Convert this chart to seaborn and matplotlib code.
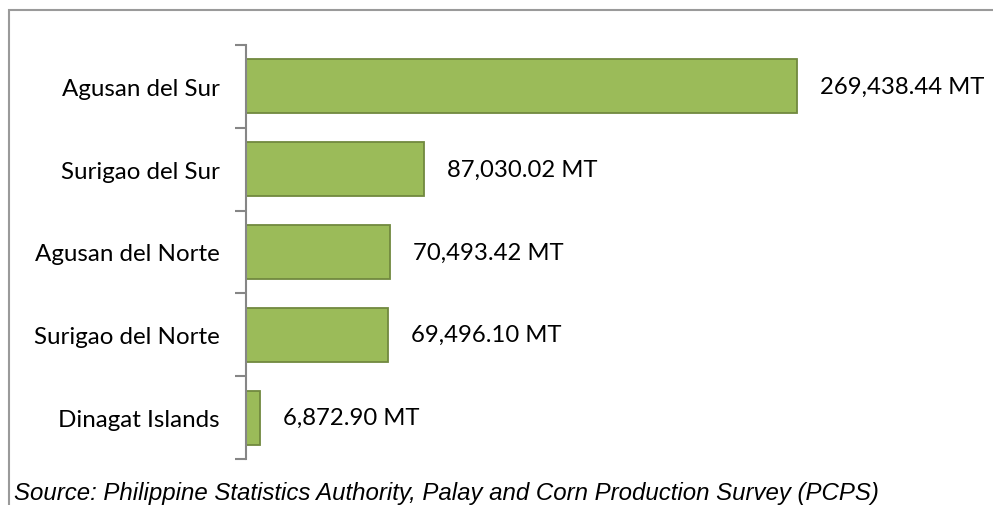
import matplotlib
matplotlib.use("Agg")
import matplotlib.pyplot as plt
import seaborn as sns
import pandas as pd
from matplotlib.patches import Rectangle

provinces = ["Agusan del Sur", "Surigao del Sur", "Agusan del Norte", "Surigao del Norte", "Dinagat Islands"]
production = [269438.44, 87030.02, 70493.42, 69496.10, 6872.90]
value_labels = ["269,438.44 MT", "87,030.02 MT", "70,493.42 MT", "69,496.10 MT", "6,872.90 MT"]
source_text = "Source: Philippine Statistics Authority, Palay and Corn Production Survey (PCPS)"

sns.set_theme(style="white")
plt.rcParams['font.family'] = ['Lato', 'DejaVu Sans']

W, H = 993, 506
fig = plt.figure(figsize=(W / 100, H / 100), dpi=100)
ax = fig.add_axes([246 / W, 1 - 460 / H, (859 - 246) / W, (460 - 46) / H])

df = pd.DataFrame({"province": provinces, "production": production})
sns.barplot(data=df, y="province", x="production", orient="h", ax=ax,
            color="#9BBB59", edgecolor="#71893F", linewidth=1.3, width=0.65,
            saturation=1)

ax.set_xlim(0, 300000)
ax.set_ylim(4.5, -0.5)
ax.set_xlabel("")
ax.set_ylabel("")
ax.set_xticks([])
for s in ["top", "right", "bottom"]:
    ax.spines[s].set_visible(False)
ax.spines["left"].set_color("#868686")
ax.spines["left"].set_linewidth(1.5)

ax.set_yticks(range(len(provinces)))
ax.set_yticklabels(provinces, fontsize=17.4, color="black")
ax.tick_params(axis="y", which="major", length=0, pad=19)
ax.set_yticks([i - 0.5 for i in range(len(provinces) + 1)], minor=True)
ax.tick_params(axis="y", which="minor", length=8, width=1.5, color="#868686", left=True)

for i, (v, lab) in enumerate(zip(production, value_labels)):
    ax.annotate(lab, xy=(v, i), xytext=(23, 0), textcoords="offset pixels",
                va="center", ha="left", fontsize=17.2, color="black", annotation_clip=False)

fig.text(14 / W, 1 - 500 / H, source_text, fontsize=17.3, style="italic",
         family=["Liberation Sans", "DejaVu Sans"], color="black", va="baseline", ha="left")

fig.add_artist(Rectangle((9 / W, -0.1), 1.2, 1 - 11 / H + 0.1, transform=fig.transFigure,
                         fill=False, edgecolor="#9A9A9A", linewidth=1.5))

fig.savefig("out.png", dpi=100)
